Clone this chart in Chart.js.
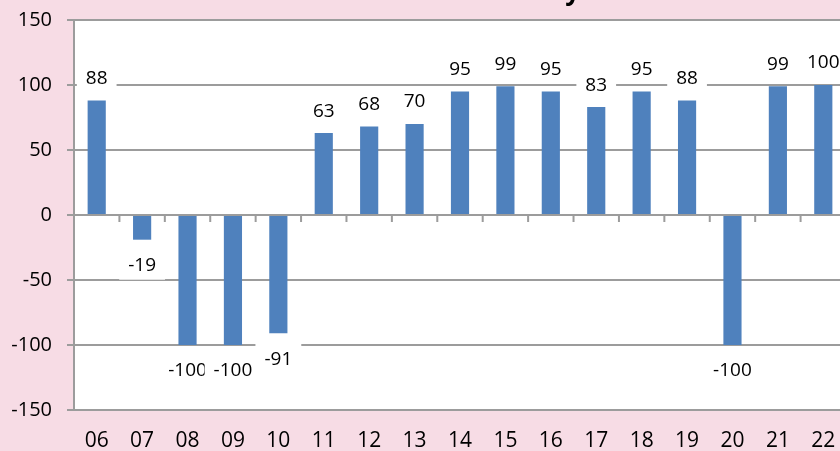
<!DOCTYPE html>
<html>
<head>
<meta charset="utf-8">
<script src="https://cdn.jsdelivr.net/npm/chart.js@4/dist/chart.umd.min.js"></script>
<style>
html,body{margin:0;padding:0;overflow:hidden;background:#F7DCE5;}
canvas{display:block;}
</style>
</head>
<body>
<canvas id="chart" width="848" height="451"></canvas>
<script>
// data
const labels = ["06","07","08","09","10","11","12","13","14","15","16","17","18","19","20","21","22"]
const values = [88,-19,-100,-100,-91,63,68,70,95,99,95,83,95,88,-100,99,100]
const yTicks = [-150,-100,-50,0,50,100,150]
const title = "Summary"

const gridColor = "#9C9C9C"
const font = "'Open Sans', sans-serif"

// pink background + white plot area
const bgPlugin = {
  id: "bg",
  beforeDraw(chart) {
    const {ctx, chartArea: a} = chart
    ctx.save()
    ctx.fillStyle = "#F7DCE5"
    ctx.fillRect(0, 0, chart.width, chart.height)
    ctx.fillStyle = "#FFFFFF"
    ctx.fillRect(a.left, a.top, a.right - a.left, a.bottom - a.top)
    // title, mostly above the visible area
    ctx.fillStyle = "#000"
    ctx.font = "bold 26px " + font
    ctx.textAlign = "right"
    ctx.textBaseline = "alphabetic"
    ctx.fillText(title, 580, 0)
    ctx.restore()
  }
}

// tick marks on the zero line at category boundaries
const zeroTicks = {
  id: "zeroTicks",
  afterDraw(chart) {
    const {ctx} = chart
    const x = chart.scales.x, y = chart.scales.y
    const y0 = y.getPixelForValue(0)
    const step = x.getPixelForValue(1) - x.getPixelForValue(0)
    ctx.save()
    ctx.strokeStyle = gridColor
    ctx.lineWidth = 2
    ctx.beginPath()
    for (let i = 1; i < labels.length; i++) {
      const px = x.getPixelForValue(i) - step / 2
      ctx.moveTo(px, y0)
      ctx.lineTo(px, y0 + 7)
    }
    ctx.stroke()
    ctx.restore()
  }
}

// value labels in white boxes
const valueLabels = {
  id: "valueLabels",
  afterDatasetsDraw(chart) {
    const {ctx} = chart
    const meta = chart.getDatasetMeta(0)
    ctx.save()
    ctx.font = "19px " + font
    ctx.textAlign = "center"
    ctx.textBaseline = "middle"
    meta.data.forEach((bar, i) => {
      const v = values[i]
      const txt = String(v)
      const w = ctx.measureText(txt).width + 18
      const h = 30
      const cy = v >= 0 ? bar.y - 23 : bar.y + 25
      ctx.fillStyle = "#FFFFFF"
      ctx.fillRect(bar.x - w / 2, cy - h / 2, w, h)
      ctx.fillStyle = "#000"
      ctx.fillText(txt, bar.x, cy + 1)
    })
    ctx.restore()
  }
}

new Chart(document.getElementById("chart"), {
  type: "bar",
  data: {
    labels: labels,
    datasets: [{
      data: values,
      backgroundColor: "#4F81BD",
      barPercentage: 0.8,
      categoryPercentage: 0.5
    }]
  },
  options: {
    responsive: false,
    animation: false,
    layout: {padding: {top: 20, right: 2, left: 0, bottom: 0}},
    plugins: {legend: {display: false}, tooltip: {enabled: false}},
    scales: {
      x: {
        grid: {display: false, drawTicks: false},
        border: {display: false},
        ticks: {color: "#000", font: {family: font, size: 21}, padding: 18},
        afterFit: s => { s.height = 41; s.paddingLeft = 0; s.paddingRight = 0 }
      },
      y: {
        min: -150,
        max: 150,
        afterBuildTicks: s => { s.ticks = yTicks.map(v => ({value: v})) },
        grid: {color: gridColor, lineWidth: 2, tickLength: 7},
        border: {color: gridColor, width: 2},
        ticks: {color: "#000", font: {family: font, size: 20}, padding: 15},
        afterFit: s => { s.width = 74; s.paddingTop = 0; s.paddingBottom = 0 }
      }
    }
  },
  plugins: [bgPlugin, zeroTicks, valueLabels]
})
</script>
</body>
</html>
